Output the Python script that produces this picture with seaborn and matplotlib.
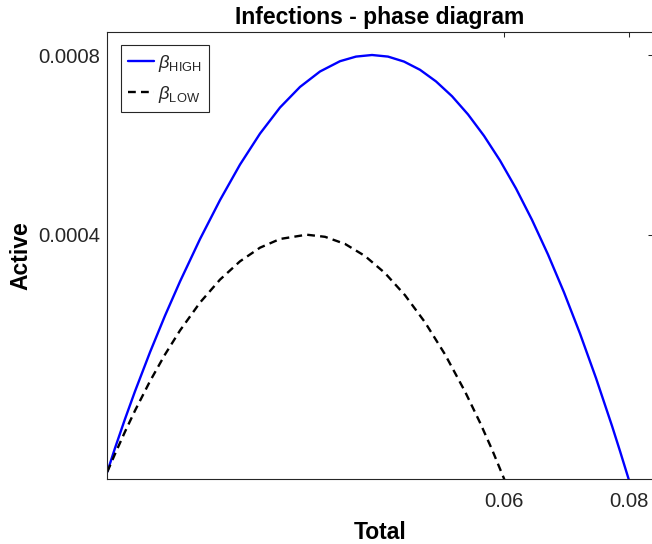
import numpy as np
import pandas as pd
import matplotlib
matplotlib.use("Agg")
import matplotlib.pyplot as plt
import matplotlib.ticker as mticker
import seaborn as sns

# ---- data ----
total_high = [0.0, 0.001181, 0.002716, 0.004250, 0.006552, 0.008853, 0.011155,
              0.014223, 0.017292, 0.020361, 0.023429, 0.026498, 0.029567, 0.032635,
              0.035704, 0.038159, 0.040614, 0.043069, 0.045524, 0.047979, 0.050433,
              0.052888, 0.055343, 0.057798, 0.060253, 0.062708, 0.065163, 0.067618,
              0.070073, 0.072528, 0.074983, 0.077437, 0.078665, 0.080000]
active_high = [0.0000140, 0.0000588, 0.0001137, 0.0001659, 0.0002396, 0.0003085,
               0.0003729, 0.0004529, 0.0005264, 0.0005934, 0.0006518, 0.0007010,
               0.0007398, 0.0007689, 0.0007883, 0.0007970, 0.0008000, 0.0007970,
               0.0007876, 0.0007721, 0.0007502, 0.0007223, 0.0006880, 0.0006476,
               0.0006011, 0.0005483, 0.0004891, 0.0004238, 0.0003524, 0.0002747,
               0.0001908, 0.0001007, 0.0000532, 0.0]

total_low = [0.0, 0.001181, 0.002716, 0.004250, 0.006552, 0.008853, 0.011155,
             0.014223, 0.017292, 0.020361, 0.023429, 0.026498, 0.030594, 0.033403,
             0.036471, 0.039540, 0.042609, 0.045677, 0.048746, 0.051815, 0.054883,
             0.057185, 0.059026, 0.060913]
active_low = [0.0000140, 0.0000477, 0.0000897, 0.0001295, 0.0001850, 0.0002353,
              0.0002806, 0.0003332, 0.0003765, 0.0004110, 0.0004367, 0.0004531,
              0.0004612, 0.0004572, 0.0004438, 0.0004210, 0.0003888, 0.0003471,
              0.0002960, 0.0002355, 0.0001655, 0.0001069, 0.0000562, 0.0]

series_labels = [r"$\beta_{\mathrm{HIGH}}$", r"$\beta_{\mathrm{LOW}}$"]
# ticks sit at the final sizes / peak values of the two curves
x_ticks = [0.060913, 0.080000]
x_ticklabels = ["0.06", "0.08"]
y_ticks = [0.0004612, 0.0008000]
y_ticklabels = ["0.0004", "0.0008"]
x_limits = (0.0, 0.08365)
y_limits = (0.0, 0.0008428)

# ---- style ----
sns.set_style("white")
plt.rcParams["font.family"] = ["Liberation Sans", "DejaVu Sans"]
plt.rcParams["mathtext.fontset"] = "custom"
plt.rcParams["mathtext.rm"] = "Liberation Sans"
plt.rcParams["mathtext.it"] = "Liberation Sans:italic"
plt.rcParams["mathtext.bf"] = "Liberation Sans:bold"

AX_COL = "#262626"
W, H = 652, 544
fig = plt.figure(figsize=(W / 100, H / 100), dpi=100)
left, right, top, bottom = 107.3, 652.5, 32.3, 479.3
ax = fig.add_axes([left / W, (H - bottom) / H, (right - left) / W, (bottom - top) / H])

df_high = pd.DataFrame({"Total": total_high, "Active": active_high})
df_low = pd.DataFrame({"Total": total_low, "Active": active_low})

sns.lineplot(data=df_high, x="Total", y="Active", ax=ax, color="#0000FF",
             lw=1.7, sort=False, estimator=None, label=series_labels[0])
sns.lineplot(data=df_low, x="Total", y="Active", ax=ax, color="black",
             lw=1.7, sort=False, estimator=None, label=series_labels[1],
             linestyle=(0, (3.3, 2.2)))

ax.set_xlim(*x_limits)
ax.set_ylim(*y_limits)

ax.xaxis.set_major_locator(mticker.FixedLocator(x_ticks))
ax.xaxis.set_major_formatter(mticker.FixedFormatter(x_ticklabels))
ax.yaxis.set_major_locator(mticker.FixedLocator(y_ticks))
ax.yaxis.set_major_formatter(mticker.FixedFormatter(y_ticklabels))
ax.xaxis.set_minor_locator(mticker.NullLocator())
ax.yaxis.set_minor_locator(mticker.NullLocator())

ax.tick_params(axis="both", which="major", direction="in", length=3.8, width=0.75,
               color=AX_COL, labelcolor=AX_COL, labelsize=14.6,
               top=True, right=True)
ax.tick_params(axis="x", pad=9.5)
ax.tick_params(axis="y", pad=5)
for sp in ax.spines.values():
    sp.set_visible(True)
    sp.set_color(AX_COL)
    sp.set_linewidth(0.8)

ax.set_title("Infections - phase diagram", fontsize=16.5, fontweight="bold",
             color="black", pad=6)
ax.set_xlabel("Total", fontsize=16.5, fontweight="bold", color="black", labelpad=7)
ax.set_ylabel("Active", fontsize=16.5, fontweight="bold", color="black", labelpad=4)

axw, axh = right - left, bottom - top
leg = ax.legend(loc="upper left", bbox_to_anchor=(13.4 / axw, 1 - 12.7 / axh),
                borderaxespad=0, fontsize=13.2, frameon=True, fancybox=False,
                handlelength=1.4, handletextpad=0.2, borderpad=0.42,
                labelspacing=0.55, framealpha=1)
leg.get_frame().set_edgecolor(AX_COL)
leg.get_frame().set_linewidth(0.8)

fig.savefig("out.png", dpi=100)
